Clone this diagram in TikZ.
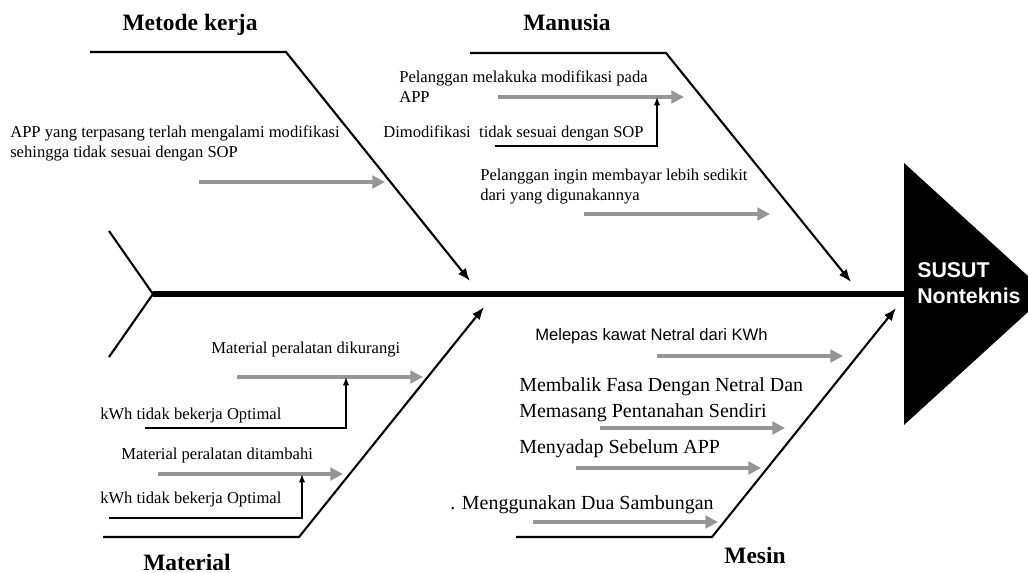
\documentclass[tikz,border=0pt]{standalone}
\usepackage{fontspec}
\setmainfont{Liberation Serif}
\setsansfont{Liberation Sans}
\usetikzlibrary{arrows.meta}
\definecolor{causegray}{RGB}{150,150,150}
\tikzset{spine/.style={line width=3.6pt}}
\tikzset{bone/.style={line width=1.5pt}}
\tikzset{bone-arrow/.style={-{Latex[length=9pt,width=7pt]}, line width=1.5pt}}
\tikzset{cause-arrow/.style={-{Triangle[length=9pt,width=9pt]}, line width=2.2pt, causegray}}
\tikzset{sub-arrow/.style={-{Latex[length=6pt,width=4.5pt]}, line width=0.9pt}}
\tikzset{title/.style={font=\fontsize{16.7}{20}\selectfont\bfseries, anchor=base, inner sep=0pt}}
\tikzset{cause/.style={font=\fontsize{11.8}{14.2}\selectfont, anchor=base west, inner sep=0pt, align=left}}
\tikzset{cause-big/.style={font=\fontsize{14.2}{17.8}\selectfont, anchor=base west, inner sep=0pt, align=left}}

\begin{document}
\begin{tikzpicture}[x=0.025cm, y=-0.025cm]
      \useasboundingbox (0,0) rectangle (1028,573);

      % spine and head
      \coordinate (tail) at (153,294);
      \coordinate (tail-top) at (109,231);
      \coordinate (tail-bot) at (109,357);
      \coordinate (head) at (904,294);
      \fill (904,163) -- (1028,276) -- (1028,312) -- (904,425) -- cycle;
      \draw[spine] (tail) -- (head);
      \draw[bone] (tail-top) -- (tail) -- (tail-bot);
      \node[font=\fontsize{15.2}{17.8}\selectfont\sffamily\bfseries, text=white, anchor=base west, inner sep=0pt, align=left]
        (effect) at (917,303) {SUSUT\\Nonteknis};

      % bones
      \coordinate (mk-end) at (90,52);
      \coordinate (mk-bend) at (286,52);
      \coordinate (mk-tip) at (470,281);
      \coordinate (mn-end) at (470,53);
      \coordinate (mn-bend) at (666,53);
      \coordinate (mn-tip) at (851,282);
      \coordinate (mt-end) at (103,537);
      \coordinate (mt-bend) at (299,537);
      \coordinate (mt-tip) at (484,307);
      \coordinate (ms-end) at (516,537);
      \coordinate (ms-bend) at (712,537);
      \coordinate (ms-tip) at (896,308);
      \draw[bone-arrow] (mk-end) -- (mk-bend) -- (mk-tip);
      \draw[bone-arrow] (mn-end) -- (mn-bend) -- (mn-tip);
      \draw[bone-arrow] (mt-end) -- (mt-bend) -- (mt-tip);
      \draw[bone-arrow] (ms-end) -- (ms-bend) -- (ms-tip);

      \node[title] (metode) at (190,30) {Metode kerja};
      \node[title] (manusia) at (567,30) {Manusia};
      \node[title] (material) at (187,570) {Material};
      \node[title] (mesin) at (755,563) {Mesin};

      % Metode kerja
      \node[cause] (app) at (10,157) {APP yang terpasang terlah mengalami modifikasi\\sehingga tidak sesuai dengan SOP};
      \coordinate (app-s) at (199,182);
      \coordinate (app-t) at (385,182);
      \draw[cause-arrow] (app-s) -- (app-t);

      % Manusia
      \node[cause] (modif) at (399,102) {Pelanggan melakuka modifikasi pada\\APP};
      \coordinate (modif-s) at (498,97);
      \coordinate (modif-t) at (684,97);
      \draw[cause-arrow] (modif-s) -- (modif-t);
      \node[cause] (sop) at (383,137) {Dimodifikasi\ \ tidak sesuai dengan SOP};
      \coordinate (sop-s) at (495,146);
      \coordinate (sop-b) at (657,146);
      \draw[sub-arrow] (sop-s) -- (sop-b) -- (sop-b |- modif-s);
      \node[cause] (bayar) at (480,200) {Pelanggan ingin membayar lebih sedikit\\dari yang digunakannya};
      \coordinate (bayar-s) at (584,214);
      \coordinate (bayar-t) at (770,214);
      \draw[cause-arrow] (bayar-s) -- (bayar-t);

      % Material
      \node[cause] (kurang) at (211,353) {Material peralatan dikurangi};
      \coordinate (kurang-s) at (237,377);
      \coordinate (kurang-t) at (423,377);
      \draw[cause-arrow] (kurang-s) -- (kurang-t);
      \node[cause] (kwh1) at (100,419) {kWh tidak bekerja Optimal};
      \coordinate (kwh1-s) at (145,428);
      \coordinate (kwh1-b) at (346,428);
      \draw[sub-arrow] (kwh1-s) -- (kwh1-b) -- (kwh1-b |- kurang-s);
      \node[cause] (tambah) at (121,459) {Material peralatan ditambahi};
      \coordinate (tambah-s) at (158,474);
      \coordinate (tambah-t) at (343,474);
      \draw[cause-arrow] (tambah-s) -- (tambah-t);
      \node[cause] (kwh2) at (100,503) {kWh tidak bekerja Optimal};
      \coordinate (kwh2-s) at (109,518);
      \coordinate (kwh2-b) at (302,518);
      \draw[sub-arrow] (kwh2-s) -- (kwh2-b) -- (kwh2-b |- tambah-s);

      % Mesin
      \node[cause, font=\fontsize{11.8}{14.2}\selectfont\sffamily] (netral) at (535,340) {Melepas kawat Netral dari KWh};
      \coordinate (netral-s) at (657,356);
      \coordinate (netral-t) at (843,356);
      \draw[cause-arrow] (netral-s) -- (netral-t);
      \node[cause-big] (fasa) at (519,417) {Membalik Fasa Dengan Netral Dan\\Memasang Pentanahan Sendiri};
      \coordinate (fasa-s) at (600,428);
      \coordinate (fasa-t) at (785,428);
      \draw[cause-arrow] (fasa-s) -- (fasa-t);
      \node[cause-big] (sadap) at (519,453) {Menyadap Sebelum APP};
      \coordinate (sadap-s) at (576,468);
      \coordinate (sadap-t) at (761,468);
      \draw[cause-arrow] (sadap-s) -- (sadap-t);
      \node[cause-big] (sambung) at (450,509) {. Menggunakan Dua Sambungan};
      \coordinate (sambung-s) at (533,522);
      \coordinate (sambung-t) at (718,522);
      \draw[cause-arrow] (sambung-s) -- (sambung-t);

\end{tikzpicture}
\end{document}
